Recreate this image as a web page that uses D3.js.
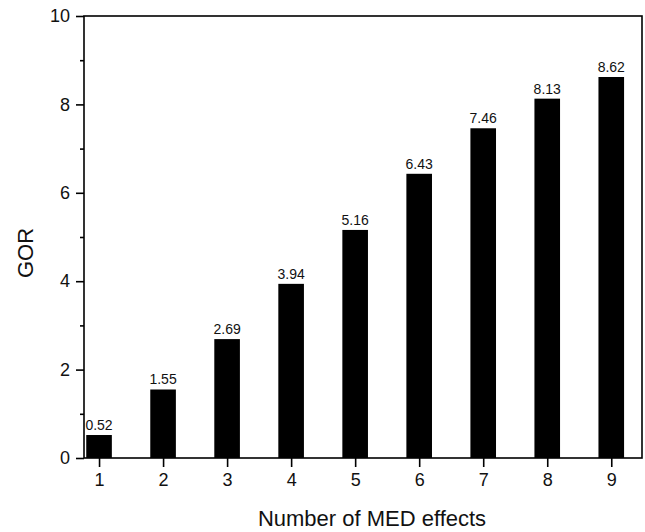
<!DOCTYPE html>
<html>
<head>
<meta charset="utf-8">
<script src="https://cdn.jsdelivr.net/npm/d3@7"></script>
<style>
  html, body { margin: 0; padding: 0; background: #fff; }
  svg { display: block; font-family: "Liberation Sans", Arial, sans-serif; }
</style>
</head>
<body>
<svg id="chart" width="645" height="532"></svg>
<script>
// Number of MED effects vs. GOR
const effects = [1, 2, 3, 4, 5, 6, 7, 8, 9];
const gor = [0.52, 1.55, 2.69, 3.94, 5.16, 6.43, 7.46, 8.13, 8.62];
const yMajorTicks = [0, 2, 4, 6, 8, 10];
const yMinorTicks = [1, 3, 5, 7, 9];

const svg = d3.select("#chart");
const plotLeft = 84, plotRight = 642, plotTop = 16, plotBottom = 458;

const x = d3.scaleLinear().domain([0.765, 9.48]).range([plotLeft, plotRight]);
const y = d3.scaleLinear().domain([0, 10]).range([plotBottom, plotTop]);
const barW = x(1.4) - x(1.0);

// bars
svg.append("g").selectAll("rect").data(effects).join("rect")
  .attr("x", (d) => x(d) - barW / 2)
  .attr("y", (d, i) => y(gor[i]))
  .attr("width", barW)
  .attr("height", (d, i) => y(0) - y(gor[i]))
  .attr("fill", "#000");

// value labels
svg.append("g").selectAll("text").data(effects).join("text")
  .attr("x", (d) => x(d))
  .attr("y", (d, i) => y(gor[i]) - 5)
  .attr("text-anchor", "middle")
  .attr("font-size", 14)
  .attr("fill", "#111")
  .text((d, i) => gor[i].toFixed(2));

// frame
svg.append("rect")
  .attr("x", plotLeft).attr("y", plotTop)
  .attr("width", plotRight - plotLeft).attr("height", plotBottom - plotTop)
  .attr("fill", "none").attr("stroke", "#000").attr("stroke-width", 1.6);

// y axis
const yAxis = d3.axisLeft(y).tickValues(yMajorTicks).tickSize(8).tickPadding(6).tickFormat(d3.format("d"));
const gy = svg.append("g").attr("transform", `translate(${plotLeft},0)`).call(yAxis);
gy.select(".domain").remove();
gy.selectAll("line").attr("stroke-width", 1.6);
gy.selectAll("text").attr("font-size", 18).attr("fill", "#111").style("font-family", "Liberation Sans, Arial, sans-serif");
const gyMinor = svg.append("g").attr("transform", `translate(${plotLeft},0)`)
  .call(d3.axisLeft(y).tickValues(yMinorTicks).tickSize(4).tickFormat(""));
gyMinor.select(".domain").remove();
gyMinor.selectAll("line").attr("stroke-width", 1.6);

// x axis
const xAxis = d3.axisBottom(x).tickValues(effects).tickSize(9).tickPadding(6).tickFormat(d3.format("d"));
const gx = svg.append("g").attr("transform", `translate(0,${plotBottom})`).call(xAxis);
gx.select(".domain").remove();
gx.selectAll("line").attr("stroke-width", 1.6);
gx.selectAll("text").attr("font-size", 18).attr("fill", "#111").style("font-family", "Liberation Sans, Arial, sans-serif");

// axis titles
svg.append("text")
  .attr("x", 372)
  .attr("y", 526)
  .attr("text-anchor", "middle")
  .attr("font-size", 22)
  .attr("fill", "#111")
  .text("Number of MED effects");

svg.append("text")
  .attr("transform", `translate(33,253) rotate(-90)`)
  .attr("text-anchor", "middle")
  .attr("font-size", 22)
  .attr("fill", "#111")
  .text("GOR");
</script>
</body>
</html>
